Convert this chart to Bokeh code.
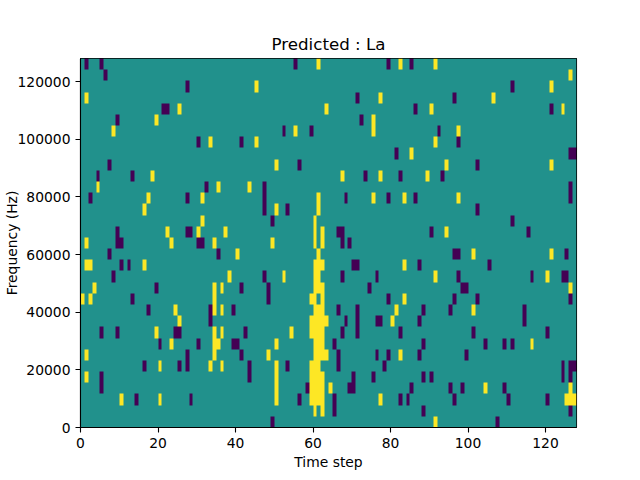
import numpy as np
from bokeh.plotting import figure
from bokeh.models import LinearColorMapper, FixedTicker, BasicTickFormatter
from bokeh.embed import file_html
from bokeh.resources import INLINE

title_text = "Predicted : La"
x_label = "Time step"
y_label = "Frequency (Hz)"
x_ticks = [0, 20, 40, 60, 80, 100, 120]
y_ticks = [0, 20000, 40000, 60000, 80000, 100000, 120000]
n_steps = 128
max_freq = 128000
palette = ["#440154", "#21918c", "#fde725"]

# Columns per row, listed from the top row of the picture to the bottom row.
low_cells = [
    [1, 5, 55, 79, 85],
    [6],
    [27, 111],
    [71, 96],
    [21, 22, 86, 121],
    [9, 72],
    [52, 59, 92],
    [30, 41, 97],
    [81, 126, 127],
    [7, 56, 102],
    [4, 13, 73, 82, 93],
    [32, 47, 126],
    [2, 27, 47, 68, 79, 86, 126],
    [47, 53, 102],
    [49, 111],
    [9, 27, 28, 66, 67, 90, 115],
    [9, 10, 30, 31, 67, 69],
    [7, 35, 96, 97, 125],
    [10, 12, 70, 71, 87, 105],
    [8, 47, 67, 76, 97, 116, 124, 125],
    [19, 41, 48, 74, 98, 99],
    [13, 48, 79, 96, 102, 126],
    [17, 33, 39, 66, 71, 88, 95, 114],
    [33, 68, 71, 76, 77, 87, 114],
    [5, 9, 24, 25, 42, 67, 71, 82, 101, 120],
    [20, 30, 39, 40, 65, 88, 104, 109, 111],
    [27, 41, 66, 76, 79, 87, 99],
    [16, 25, 27, 43, 53, 66, 78, 124, 126, 127],
    [5, 43, 70, 75, 88, 90, 124, 126],
    [5, 58, 69, 70, 85, 95, 98, 109],
    [14, 28, 56, 65, 82, 84, 96, 110, 120],
    [65, 88, 126],
    [49, 107],
]
high_cells = [
    [61, 82, 91],
    [126],
    [45, 121],
    [1, 77, 106],
    [25, 63, 90, 124],
    [19, 75],
    [8, 55, 75, 97],
    [33, 45, 91],
    [85],
    [50, 94, 121],
    [18, 67, 77, 89],
    [4, 35, 43],
    [17, 31, 61, 75, 83, 97],
    [16, 50, 61],
    [31, 60],
    [22, 30, 37, 60, 62, 94],
    [1, 23, 34, 49, 60, 62],
    [40, 61, 101, 121],
    [1, 2, 16, 60, 61, 62, 83],
    [38, 52, 60, 61, 91, 120],
    [3, 34, 36, 60, 61, 62, 126],
    [0, 2, 34, 59, 60, 62, 83],
    [24, 34, 36, 60, 61, 62, 81, 101],
    [25, 59, 60, 61, 62, 63, 80],
    [19, 34, 36, 54, 59, 60, 61, 62],
    [23, 34, 35, 50, 60, 61, 62, 116],
    [1, 34, 48, 60, 61, 62, 63, 82],
    [20, 33, 36, 50, 59, 60, 61],
    [1, 50, 59, 60, 61, 62],
    [50, 59, 60, 61, 62, 64, 104, 126],
    [10, 20, 50, 59, 60, 61, 62, 77, 125, 126, 127],
    [60, 62],
    [91],
]

grid = np.ones((len(low_cells), n_steps))
for row, cols in enumerate(low_cells):
    grid[row, cols] = 0
for row, cols in enumerate(high_cells):
    grid[row, cols] = 2

p = figure(width=640, height=480, output_backend="svg", toolbar_location=None,
           x_range=(0, n_steps), y_range=(0, max_freq),
           title=title_text, x_axis_label=x_label, y_axis_label=y_label,
           min_border_left=80, min_border_right=64, min_border_top=58, min_border_bottom=53)
p.grid.visible = False
p.background_fill_color = palette[1]
mapper = LinearColorMapper(palette=palette, low=0, high=2)
p.image(image=[grid[::-1]], x=0, y=0, dw=n_steps, dh=max_freq, color_mapper=mapper)

p.title.align = "center"
p.title.text_font = "DejaVu Sans"
p.title.text_font_size = "16.67px"
p.title.text_font_style = "normal"
p.title.text_color = "black"
p.title.standoff = 9
p.outline_line_color = "black"
p.outline_line_width = 1.1

for ax, ticks in ((p.xaxis[0], x_ticks), (p.yaxis[0], y_ticks)):
    ax.ticker = FixedTicker(ticks=ticks)
    ax.major_tick_in = 0
    ax.major_tick_out = 5
    ax.minor_tick_in = 0
    ax.minor_tick_out = 0
    ax.major_tick_line_color = "black"
    ax.major_tick_line_width = 1.1
    ax.axis_line_color = "black"
    ax.axis_line_width = 1.1
    ax.major_label_text_font = "DejaVu Sans"
    ax.major_label_text_font_size = "13.89px"
    ax.major_label_text_color = "black"
    ax.axis_label_text_font = "DejaVu Sans"
    ax.axis_label_text_font_size = "13.89px"
    ax.axis_label_text_font_style = "normal"
    ax.axis_label_text_color = "black"
    ax.major_label_standoff = 5
p.yaxis[0].formatter = BasicTickFormatter(use_scientific=False)
p.yaxis[0].major_label_orientation = "horizontal"
p.xaxis[0].axis_label_standoff = 3
p.yaxis[0].axis_label_standoff = -5

open("out.html", "w").write(file_html(p, INLINE))
